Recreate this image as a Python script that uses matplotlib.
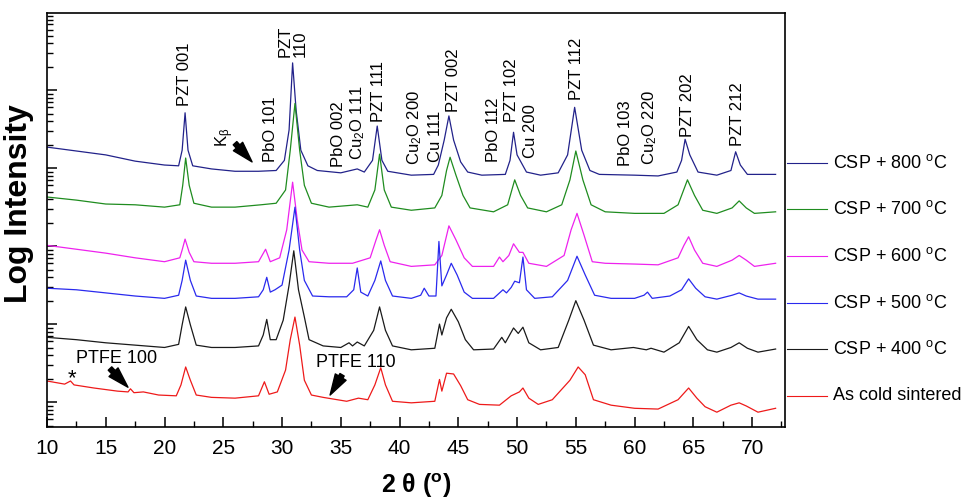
import numpy as np
import matplotlib
matplotlib.use("Agg")
import matplotlib.pyplot as plt
from matplotlib.ticker import LogLocator, MultipleLocator, NullFormatter

plt.rcParams['font.family'] = ['Liberation Sans', 'DejaVu Sans']
plt.rcParams['mathtext.fontset'] = 'custom'
plt.rcParams['mathtext.rm'] = 'Liberation Sans'
plt.rcParams['mathtext.it'] = 'Liberation Sans:italic'
plt.rcParams['mathtext.bf'] = 'Liberation Sans:bold'

# XRD patterns: (2 theta in deg, log10 intensity, stacked)
CSP_800 = [(10.0, 5.27), (12.5, 5.22), (15.0, 5.17), (17.5, 5.09), (20.0, 5.04), (21.2, 5.03),
           (21.5, 5.23), (21.75, 5.71), (22.0, 5.23), (22.4, 5.03), (24.0, 4.99), (26.0, 4.96),
           (28.0, 4.96), (29.5, 4.97), (30.2, 5.10), (30.6, 5.49), (30.9, 6.35), (31.2, 5.74),
           (31.6, 5.23), (32.2, 5.03), (33.0, 4.97), (35.0, 4.94), (36.4, 4.99), (37.0, 4.95),
           (37.7, 5.10), (38.1, 5.54), (38.5, 5.10), (39.0, 4.96), (41.0, 4.91), (42.9, 4.92),
           (43.3, 5.04), (43.8, 5.36), (44.2, 5.67), (44.6, 5.36), (45.2, 5.08), (45.8, 4.95),
           (47.0, 4.91), (49.0, 4.92), (49.4, 5.10), (49.7, 5.46), (50.0, 5.17), (50.4, 5.06),
           (50.8, 4.95), (52.0, 4.91), (53.5, 4.94), (54.3, 5.17), (54.9, 5.78), (55.5, 5.23),
           (56.2, 4.97), (57.0, 4.92), (60.0, 4.91), (62.0, 4.90), (63.6, 4.95), (64.0, 5.10),
           (64.3, 5.37), (64.7, 5.17), (65.4, 4.95), (67.0, 4.91), (68.2, 4.97), (68.6, 5.21),
           (69.0, 5.04), (69.6, 4.92), (72.0, 4.92)]

CSP_700 = [(10.0, 4.63), (12.5, 4.59), (15.0, 4.54), (17.5, 4.53), (20.0, 4.50), (21.3, 4.53),
           (21.55, 4.78), (21.8, 5.13), (22.1, 4.78), (22.5, 4.55), (24.0, 4.50), (26.0, 4.50),
           (28.2, 4.53), (29.5, 4.55), (30.3, 4.72), (30.7, 5.23), (31.1, 5.83), (31.5, 5.23),
           (31.9, 4.78), (32.5, 4.55), (34.0, 4.50), (36.4, 4.53), (37.3, 4.50), (37.9, 4.72),
           (38.3, 5.18), (38.7, 4.72), (39.3, 4.50), (41.0, 4.46), (43.0, 4.49), (43.6, 4.65),
           (44.0, 4.97), (44.3, 5.14), (44.8, 4.91), (45.4, 4.65), (46.0, 4.49), (48.0, 4.44),
           (49.2, 4.53), (49.8, 4.85), (50.3, 4.65), (50.9, 4.49), (52.5, 4.44), (53.8, 4.53),
           (54.5, 4.85), (55.0, 5.22), (55.6, 4.85), (56.3, 4.53), (57.5, 4.44), (60.0, 4.42),
           (62.5, 4.42), (63.7, 4.53), (64.5, 4.85), (65.1, 4.65), (65.8, 4.46), (67.0, 4.42),
           (68.3, 4.49), (68.9, 4.58), (69.5, 4.49), (70.2, 4.42), (72.0, 4.44)]

CSP_600 = [(10.0, 4.01), (12.5, 3.96), (15.0, 3.91), (17.5, 3.85), (20.0, 3.80), (21.3, 3.85),
           (21.5, 3.95), (21.75, 4.09), (22.1, 3.92), (22.5, 3.80), (24.0, 3.78), (26.0, 3.78),
           (28.0, 3.80), (28.6, 3.96), (29.0, 3.80), (29.8, 3.85), (30.4, 4.21), (30.9, 4.82),
           (31.3, 4.33), (31.7, 3.95), (32.3, 3.80), (34.0, 3.78), (36.0, 3.78), (37.5, 3.85),
           (38.0, 4.08), (38.3, 4.21), (38.7, 4.01), (39.2, 3.80), (41.0, 3.74), (43.0, 3.76),
           (43.6, 3.88), (44.2, 4.26), (44.8, 4.08), (45.5, 3.85), (46.2, 3.74), (48.0, 3.74),
           (48.5, 3.86), (48.8, 3.80), (49.3, 3.88), (49.7, 4.03), (50.2, 3.92), (50.5, 3.92),
           (51.0, 3.78), (52.5, 3.74), (54.0, 3.88), (54.6, 4.21), (55.1, 4.42), (55.7, 4.14),
           (56.4, 3.80), (57.5, 3.78), (60.0, 3.77), (62.0, 3.76), (63.7, 3.85), (64.2, 4.01),
           (64.6, 4.12), (65.1, 3.95), (65.8, 3.78), (67.0, 3.74), (68.3, 3.82), (68.9, 3.88),
           (69.5, 3.82), (70.2, 3.74), (72.0, 3.78)]

CSP_500 = [(10.0, 3.46), (12.5, 3.44), (15.0, 3.40), (17.5, 3.36), (20.0, 3.33), (21.2, 3.37),
           (21.5, 3.56), (21.8, 3.82), (22.2, 3.56), (22.7, 3.36), (24.0, 3.33), (26.0, 3.33),
           (28.0, 3.35), (28.4, 3.44), (28.7, 3.60), (29.0, 3.41), (29.4, 3.44), (30.0, 3.50),
           (30.6, 3.95), (31.1, 4.50), (31.5, 3.95), (31.9, 3.56), (32.6, 3.36), (34.0, 3.35),
           (35.5, 3.35), (36.1, 3.44), (36.4, 3.72), (36.7, 3.41), (37.3, 3.36), (37.9, 3.56),
           (38.4, 3.81), (38.8, 3.56), (39.4, 3.36), (41.0, 3.33), (41.8, 3.37), (42.1, 3.46),
           (42.5, 3.36), (43.1, 3.36), (43.35, 4.06), (43.6, 3.49), (44.0, 3.63), (44.4, 3.78),
           (44.9, 3.63), (45.5, 3.41), (46.2, 3.33), (48.0, 3.33), (48.8, 3.44), (49.1, 3.40),
           (49.5, 3.47), (49.8, 3.55), (50.2, 3.53), (50.5, 3.86), (50.8, 3.44), (51.5, 3.33),
           (53.0, 3.35), (54.3, 3.56), (55.1, 3.87), (55.8, 3.63), (56.6, 3.37), (58.0, 3.33),
           (60.0, 3.33), (60.8, 3.37), (61.1, 3.41), (61.5, 3.33), (63.0, 3.36), (64.0, 3.44),
           (64.6, 3.58), (65.2, 3.46), (66.0, 3.35), (67.0, 3.32), (68.3, 3.37), (68.9, 3.40),
           (69.5, 3.36), (70.5, 3.32), (72.0, 3.32)]

CSP_400 = [(10.0, 2.83), (12.5, 2.80), (15.0, 2.76), (17.5, 2.73), (20.0, 2.70), (21.2, 2.74),
           (21.5, 2.99), (21.8, 3.22), (22.2, 2.99), (22.7, 2.73), (24.0, 2.70), (26.0, 2.70),
           (28.0, 2.72), (28.4, 2.86), (28.7, 3.06), (29.0, 2.80), (29.5, 2.80), (30.1, 3.05),
           (30.6, 3.50), (31.0, 3.94), (31.4, 3.44), (31.9, 3.09), (32.3, 2.80), (33.5, 2.72),
           (35.0, 2.70), (35.7, 2.76), (36.0, 2.72), (36.4, 2.77), (37.0, 2.72), (37.8, 2.92),
           (38.3, 3.22), (38.8, 2.92), (39.4, 2.72), (41.0, 2.67), (43.0, 2.69), (43.4, 3.00),
           (43.6, 2.86), (44.0, 3.08), (44.4, 3.19), (45.0, 3.03), (45.6, 2.80), (46.3, 2.67),
           (48.0, 2.68), (48.7, 2.83), (49.0, 2.76), (49.7, 2.95), (50.1, 2.88), (50.5, 2.96),
           (51.0, 2.76), (52.0, 2.67), (53.5, 2.70), (54.4, 3.05), (55.0, 3.30), (55.7, 3.05),
           (56.5, 2.73), (58.0, 2.67), (59.9, 2.70), (61.0, 2.67), (61.4, 2.69), (62.5, 2.64),
           (63.8, 2.76), (64.6, 2.97), (65.3, 2.80), (66.2, 2.67), (67.0, 2.64), (68.2, 2.70),
           (68.9, 2.76), (69.6, 2.69), (70.5, 2.64), (72.0, 2.68)]

AS_SINTERED = [(10.0, 2.27), (11.5, 2.23), (12.0, 2.27), (12.3, 2.22), (14.0, 2.18), (16.0, 2.14),
               (16.9, 2.13), (17.1, 2.17), (17.4, 2.12), (18.2, 2.13), (19.5, 2.09), (21.0, 2.08),
               (21.4, 2.22), (21.8, 2.45), (22.2, 2.28), (22.7, 2.09), (24.0, 2.06), (26.0, 2.05),
               (28.0, 2.08), (28.5, 2.26), (28.9, 2.10), (29.6, 2.13), (30.3, 2.41), (30.7, 2.80),
               (31.1, 3.09), (31.5, 2.73), (31.9, 2.28), (32.5, 2.09), (33.5, 2.06), (34.3, 2.04),
               (35.5, 2.01), (36.5, 2.05), (37.3, 2.03), (37.9, 2.22), (38.4, 2.44), (38.8, 2.22),
               (39.4, 2.01), (41.0, 1.99), (43.0, 2.01), (43.4, 2.29), (43.6, 2.14), (44.0, 2.37),
               (44.6, 2.36), (45.2, 2.21), (45.8, 2.03), (46.8, 1.97), (48.5, 1.96), (49.5, 2.08),
               (50.2, 2.13), (50.5, 2.18), (51.0, 2.05), (51.8, 1.97), (53.0, 2.03), (54.5, 2.28),
               (55.2, 2.45), (55.8, 2.35), (56.5, 2.03), (58.0, 1.96), (60.0, 1.92), (62.0, 1.91),
               (63.7, 2.03), (64.6, 2.18), (65.3, 2.05), (66.0, 1.94), (67.0, 1.87), (68.2, 1.96),
               (68.9, 1.99), (69.5, 1.95), (70.5, 1.87), (72.0, 1.92)]

SAMPLES = ["CSP + 800 $^\\mathrm{o}$C", "CSP + 700 $^\\mathrm{o}$C", "CSP + 600 $^\\mathrm{o}$C",
           "CSP + 500 $^\\mathrm{o}$C", "CSP + 400 $^\\mathrm{o}$C", "As cold sintered"]
PATTERNS = [CSP_800, CSP_700, CSP_600, CSP_500, CSP_400, AS_SINTERED]
COLORS = ["#22228a", "#1f8c1f", "#ee22ee", "#2a2aee", "#1a1a1a", "#ee1a1a"]

# reflection labels: text, 2 theta, log10 intensity at the label foot
PEAK_LABELS = [("PZT 001", 21.74, 5.80), ("PZT\n110", 30.94, 6.42), ("K$_\\mathrm{β}$", 25.15, 5.27),
               ("PbO 101", 28.98, 5.08), ("PbO 002", 34.77, 5.01), ("Cu$_2$O 111", 36.47, 5.10),
               ("PZT 111", 38.17, 5.59), ("Cu$_2$O 200", 41.32, 5.04), ("Cu 111", 43.02, 5.08),
               ("PZT 002", 44.55, 5.72), ("PbO 112", 47.96, 5.08), ("PZT 102", 49.49, 5.59),
               ("Cu 200", 51.11, 5.13), ("PZT 112", 55.02, 5.87), ("PbO 103", 59.19, 5.03),
               ("Cu$_2$O 220", 61.32, 5.04), ("PZT 202", 64.47, 5.40), ("PZT 212", 68.72, 5.28)]

# arrows: (tail 2theta, tail logI), (head 2theta, head logI)
ARROWS = [((26.0, 5.32), (27.45, 5.08)),
          ((15.36, 2.43), (16.89, 2.19)),
          ((35.11, 2.35), (34.09, 2.09))]

fig = plt.figure(figsize=(9.63, 5.0), dpi=100)
ax = fig.add_axes([47 / 963, 1 - 427 / 500, 738 / 963, 414 / 500])

for pts, color in zip(PATTERNS, COLORS):
    tth, logi = np.array(pts).T
    ax.plot(tth, 10 ** logi, color=color, lw=0.9)

ax.set_yscale('log')
ax.set_xlim(10, 72.8)
ax.set_ylim(10 ** 1.68, 10 ** 6.99)
ax.xaxis.set_major_locator(MultipleLocator(5))
ax.xaxis.set_minor_locator(MultipleLocator(2.5))
ax.yaxis.set_major_locator(LogLocator(base=10, numticks=20))
ax.yaxis.set_minor_locator(LogLocator(base=10, subs=np.arange(2, 10), numticks=20))
ax.yaxis.set_major_formatter(NullFormatter())
ax.yaxis.set_minor_formatter(NullFormatter())
ax.tick_params(which='both', direction='in', top=False, right=False, labelsize=15, pad=9)
ax.tick_params(which='major', length=7, width=1.1)
ax.tick_params(which='minor', length=4, width=1.0)
for sp in ax.spines.values():
    sp.set_linewidth(1.2)

ax.set_xlabel("2 θ ($^\\mathbf{o}$)", fontsize=18, fontweight='bold')
ax.xaxis.set_label_coords(0.5, -0.108)
ax.set_ylabel("Log Intensity", fontsize=23, fontweight='bold')
ax.yaxis.set_label_coords(-0.018, 0.54)

for text, x, y in PEAK_LABELS:
    ax.text(x, 10 ** y, text, rotation=90, ha='center', va='bottom',
            fontsize=12, multialignment='left', linespacing=1.0)

for (x0, y0), (x1, y1) in ARROWS:
    ax.annotate('', xy=(x1, 10 ** y1), xytext=(x0, 10 ** y0),
                arrowprops=dict(arrowstyle='simple,head_length=1.5,head_width=0.9,tail_width=0.35',
                                color='black', mutation_scale=10, shrinkA=0, shrinkB=0))

ax.text(15.96, 10 ** 2.56, "PTFE 100", ha='center', va='center', fontsize=13)
ax.text(36.3, 10 ** 2.51, "PTFE 110", ha='center', va='center', fontsize=13)
ax.text(12.13, 10 ** 2.30, "*", ha='center', va='center', fontsize=16)

# hand-made legend to the right of the axes
for i, (name, color) in enumerate(zip(SAMPLES, COLORS)):
    y = 0.638 - i * 0.1126
    ax.plot([1.003, 1.057], [y, y], transform=ax.transAxes, clip_on=False, color=color, lw=0.8)
    ax.text(1.065, y, name, transform=ax.transAxes, va='center', fontsize=13)

fig.savefig("out.png", dpi=100)
